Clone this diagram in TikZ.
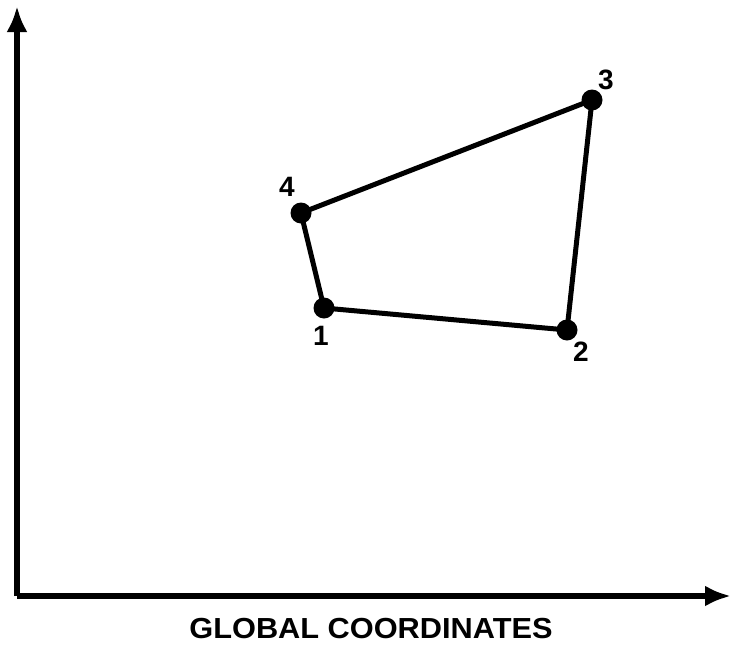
\documentclass[tikz,border=0pt]{standalone}
\usepackage{fontspec}
\setmainfont{Liberation Sans}
\usetikzlibrary{arrows.meta}
\begin{document}
\begin{tikzpicture}[x=1pt,y=-1pt,
  axis/.style={line width=5.5pt,-{Latex[length=26pt,width=21pt]}},
  edge/.style={line width=5pt},
  dot/.style={circle,fill=black,inner sep=0pt,minimum size=21pt},
  lbl/.style={font=\bfseries\fontsize{28}{28}\selectfont},
  title/.style={font=\bfseries\fontsize{29}{29}\selectfont}]
\useasboundingbox (0,0) rectangle (732,646);
\coordinate (o) at (17,596);
\coordinate (ytip) at (17,6);
\coordinate (xtip) at (731,596);
\draw[axis] (o) -- (ytip);
\draw[axis] (o) -- (xtip);
\node[dot] (n1) at (324,308) {};
\node[dot] (n2) at (567,330) {};
\node[dot] (n3) at (592,100) {};
\node[dot] (n4) at (301,213) {};
\draw[edge] (n1.center) -- (n2.center) -- (n3.center) -- (n4.center) -- cycle;
\node[lbl] (l1) at (321,336) {1};
\node[lbl] (l2) at (581,352) {2};
\node[lbl] (l3) at (606,80) {3};
\node[lbl] (l4) at (287,187) {4};
\node[title,inner sep=0pt,xscale=1.06] (t) at (371,629) {GLOBAL COORDINATES};
\end{tikzpicture}
\end{document}
